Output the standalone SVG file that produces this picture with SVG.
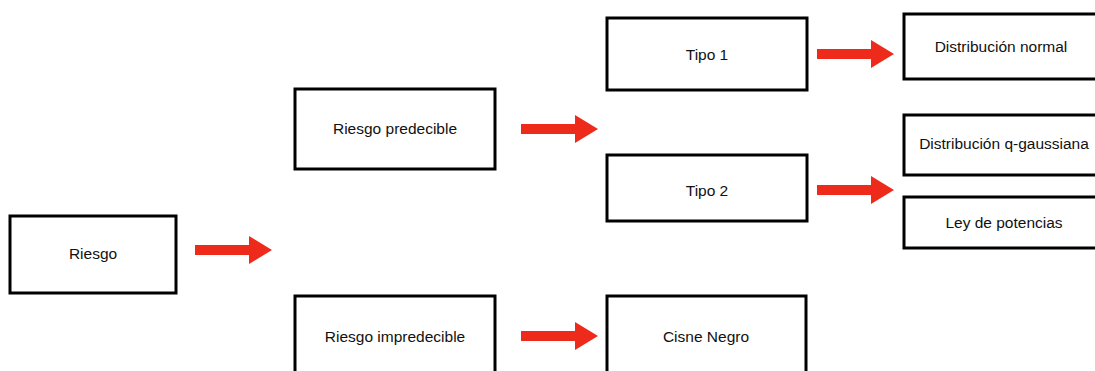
<svg xmlns="http://www.w3.org/2000/svg" xmlns:xlink="http://www.w3.org/1999/xlink" width="1095" height="371" viewBox="0 0 1095 371">
<style>
.box{fill:#fff;stroke:#000;stroke-width:3}
.lbl{font-family:"Liberation Sans",Arial,sans-serif;font-size:15.5px;fill:#111;text-anchor:middle}
.arr{fill:#ee2a1a}
</style>
<defs>
<path id="arrow" d="M0,-5 H54 V-14 L77,0 L54,14 V5 H0 Z"/>
</defs>
<rect width="1095" height="371" fill="#fff"/>
<g id="n-riesgo"><rect class="box" x="10" y="216" width="166" height="77"/><text class="lbl" x="93" y="259">Riesgo</text></g>
<g id="n-predecible"><rect class="box" x="295" y="89" width="200" height="80"/><text class="lbl" x="395" y="134">Riesgo predecible</text></g>
<g id="n-impredecible"><rect class="box" x="295" y="296" width="200" height="90"/><text class="lbl" x="395" y="342">Riesgo impredecible</text></g>
<g id="n-tipo1"><rect class="box" x="607" y="18" width="200" height="72"/><text class="lbl" x="707" y="60">Tipo 1</text></g>
<g id="n-tipo2"><rect class="box" x="607" y="155" width="200" height="66"/><text class="lbl" x="707" y="196">Tipo 2</text></g>
<g id="n-cisne"><rect class="box" x="607" y="296" width="199" height="90"/><text class="lbl" x="706" y="342">Cisne Negro</text></g>
<g id="n-normal"><rect class="box" x="904" y="14" width="200" height="65"/><text class="lbl" x="1001" y="52">Distribución normal</text></g>
<g id="n-qgauss"><rect class="box" x="904" y="115" width="200" height="60"/><text class="lbl" x="1004" y="149">Distribución q-gaussiana</text></g>
<g id="n-ley"><rect class="box" x="904" y="197" width="200" height="51"/><text class="lbl" x="1004" y="228">Ley de potencias</text></g>
<g id="connectors" class="arr">
<use xlink:href="#arrow" href="#arrow" transform="translate(195,250)"/>
<use xlink:href="#arrow" href="#arrow" transform="translate(521,129)"/>
<use xlink:href="#arrow" href="#arrow" transform="translate(521,336)"/>
<use xlink:href="#arrow" href="#arrow" transform="translate(817,54)"/>
<use xlink:href="#arrow" href="#arrow" transform="translate(817,190)"/>
</g>
</svg>
